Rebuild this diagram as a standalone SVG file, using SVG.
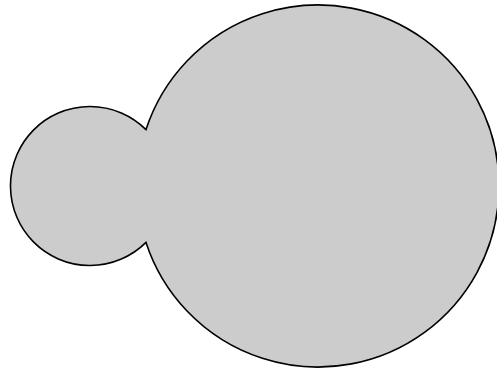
<svg xmlns="http://www.w3.org/2000/svg" width="497" height="372" viewBox="0 0 497 372">
<style>.shape{fill:#cccccc;stroke:#000000;stroke-width:1.6;stroke-linejoin:miter}</style>
<rect width="497" height="372" fill="#ffffff"/>
<g id="union">
<path class="shape" d="M146,129.6 A79.5,79.5 0 1 0 146,242.4 A181,181 0 1 0 146,129.6 Z"/>
</g>
</svg>
